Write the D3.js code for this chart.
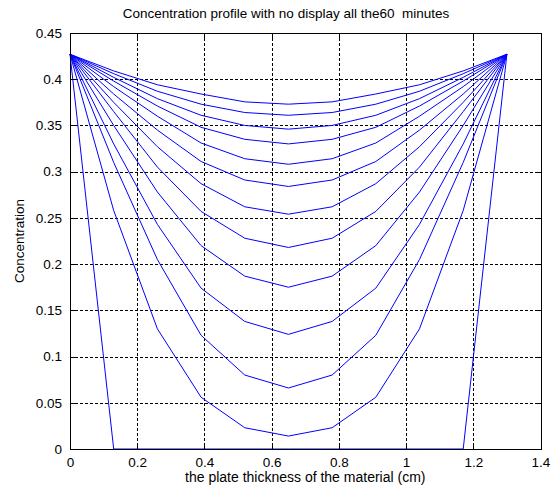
<!DOCTYPE html>
<html>
<head>
<meta charset="utf-8">
<script src="https://cdn.jsdelivr.net/npm/d3@7"></script>
<style>
  body { margin: 0; background: #fff; }
  text { font-family: "Liberation Sans", Arial, sans-serif; fill: #000; }
</style>
</head>
<body>
<svg width="554" height="495"></svg>
<script>
// nodes across the plate (cm)
var xs = [0, 0.13, 0.26, 0.39, 0.52, 0.65, 0.78, 0.91, 1.04, 1.17, 1.3];

// concentration profiles, one every 5 minutes (0..60)
var c0  = [0.427, 0,     0,     0,     0,      0,     0,      0,     0,     0,     0.427];
var c1  = [0.427, 0.258, 0.130, 0.056, 0.023,  0.014, 0.023,  0.056, 0.130, 0.258, 0.427];
var c2  = [0.427, 0.310, 0.205, 0.123, 0.080,  0.066, 0.080,  0.123, 0.205, 0.310, 0.427];
var c3  = [0.427, 0.330, 0.243, 0.174, 0.138,  0.124, 0.138,  0.174, 0.243, 0.330, 0.427];
var c4  = [0.427, 0.350, 0.278, 0.220, 0.187,  0.175, 0.187,  0.220, 0.278, 0.350, 0.427];
var c5  = [0.427, 0.365, 0.305, 0.257, 0.228,  0.218, 0.228,  0.257, 0.305, 0.365, 0.427];
var c6  = [0.427, 0.375, 0.327, 0.287, 0.262,  0.254, 0.262,  0.287, 0.327, 0.375, 0.427];
var c7  = [0.427, 0.384, 0.345, 0.311, 0.291,  0.284, 0.291,  0.311, 0.345, 0.384, 0.427];
var c8  = [0.427, 0.392, 0.360, 0.331, 0.314,  0.308, 0.314,  0.331, 0.360, 0.392, 0.427];
var c9  = [0.427, 0.398, 0.371, 0.348, 0.335,  0.330, 0.335,  0.348, 0.371, 0.398, 0.427];
var c10 = [0.427, 0.402, 0.379, 0.361, 0.350,  0.346, 0.350,  0.361, 0.379, 0.402, 0.427];
var c11 = [0.427, 0.406, 0.387, 0.373, 0.364,  0.361, 0.364,  0.373, 0.387, 0.406, 0.427];
var c12 = [0.427, 0.409, 0.394, 0.384, 0.3755, 0.373, 0.3755, 0.384, 0.394, 0.409, 0.427];
var profiles = [c0, c1, c2, c3, c4, c5, c6, c7, c8, c9, c10, c11, c12];

var xTicks = [0, 0.2, 0.4, 0.6, 0.8, 1, 1.2, 1.4];
var yTicks = [0, 0.05, 0.1, 0.15, 0.2, 0.25, 0.3, 0.35, 0.4, 0.45];

var svg = d3.select("svg"),
    width = +svg.attr("width"),
    height = +svg.attr("height"),
    margin = {top: 33, right: 13.5, bottom: 46, left: 70};

var x = d3.scaleLinear()
    .domain([0, 1.4])
    .range([margin.left, width - margin.right]);
var y = d3.scaleLinear()
    .domain([0, 0.45])
    .range([height - margin.bottom, margin.top]);

// grid
var grid = svg.append("g")
    .attr("stroke", "#000")
    .attr("stroke-width", 1)
    .attr("stroke-dasharray", "3,2")
    .attr("shape-rendering", "crispEdges");
grid.selectAll(".gx")
    .data(xTicks.slice(1, -1))
  .enter().append("line")
    .attr("x1", function(d) { return Math.round(x(d)) + 0.5; })
    .attr("x2", function(d) { return Math.round(x(d)) + 0.5; })
    .attr("y1", y(0.45))
    .attr("y2", y(0));
grid.selectAll(".gy")
    .data(yTicks.slice(1, -1))
  .enter().append("line")
    .attr("x1", x(0))
    .attr("x2", x(1.4))
    .attr("y1", function(d) { return Math.round(y(d)) + 0.5; })
    .attr("y2", function(d) { return Math.round(y(d)) + 0.5; });

// curves
var line = d3.line()
    .x(function(d, i) { return x(xs[i]); })
    .y(function(d) { return y(d); });

svg.append("g")
    .attr("fill", "none")
    .attr("stroke", "#0000ff")
    .attr("stroke-width", 1)
  .selectAll("path")
  .data(profiles)
  .enter().append("path")
    .attr("d", line);

// axes, MATLAB style: inward ticks on all four sides
svg.append("g")
    .attr("transform", "translate(0," + y(0) + ")")
    .call(d3.axisBottom(x).tickValues(xTicks).tickSizeInner(-5).tickSizeOuter(0).tickPadding(8)
      .tickFormat(d3.format("")));
svg.append("g")
    .attr("transform", "translate(0," + y(0.45) + ")")
    .call(d3.axisTop(x).tickValues(xTicks).tickSizeInner(-5).tickSizeOuter(0).tickFormat(""));
svg.append("g")
    .attr("transform", "translate(" + x(0) + ",0)")
    .call(d3.axisLeft(y).tickValues(yTicks).tickSizeInner(-5).tickSizeOuter(0).tickPadding(8)
      .tickFormat(d3.format("")));
svg.append("g")
    .attr("transform", "translate(" + x(1.4) + ",0)")
    .call(d3.axisRight(y).tickValues(yTicks).tickSizeInner(-5).tickSizeOuter(0).tickFormat(""));

svg.selectAll(".domain, .tick line")
    .attr("stroke", "#000")
    .attr("shape-rendering", "crispEdges");
svg.selectAll(".tick text")
    .attr("font-size", 13.5)
    .attr("font-family", "Liberation Sans, Arial, sans-serif")
    .attr("fill", "#000");

svg.append("text")
    .attr("x", 286)
    .attr("y", 18)
    .attr("text-anchor", "middle")
    .attr("font-size", 13.5)
    .style("white-space", "pre")
    .text("Concentration profile with no display all the60  minutes");

svg.append("text")
    .attr("x", (x(0) + x(1.4)) / 2)
    .attr("y", 482)
    .attr("text-anchor", "middle")
    .attr("font-size", 14)
    .text("the plate thickness of the material (cm)");

svg.append("text")
    .attr("transform", "translate(24," + (y(0) + y(0.45)) / 2 + ") rotate(-90)")
    .attr("text-anchor", "middle")
    .attr("font-size", 13.5)
    .text("Concentration");
</script>
</body>
</html>
